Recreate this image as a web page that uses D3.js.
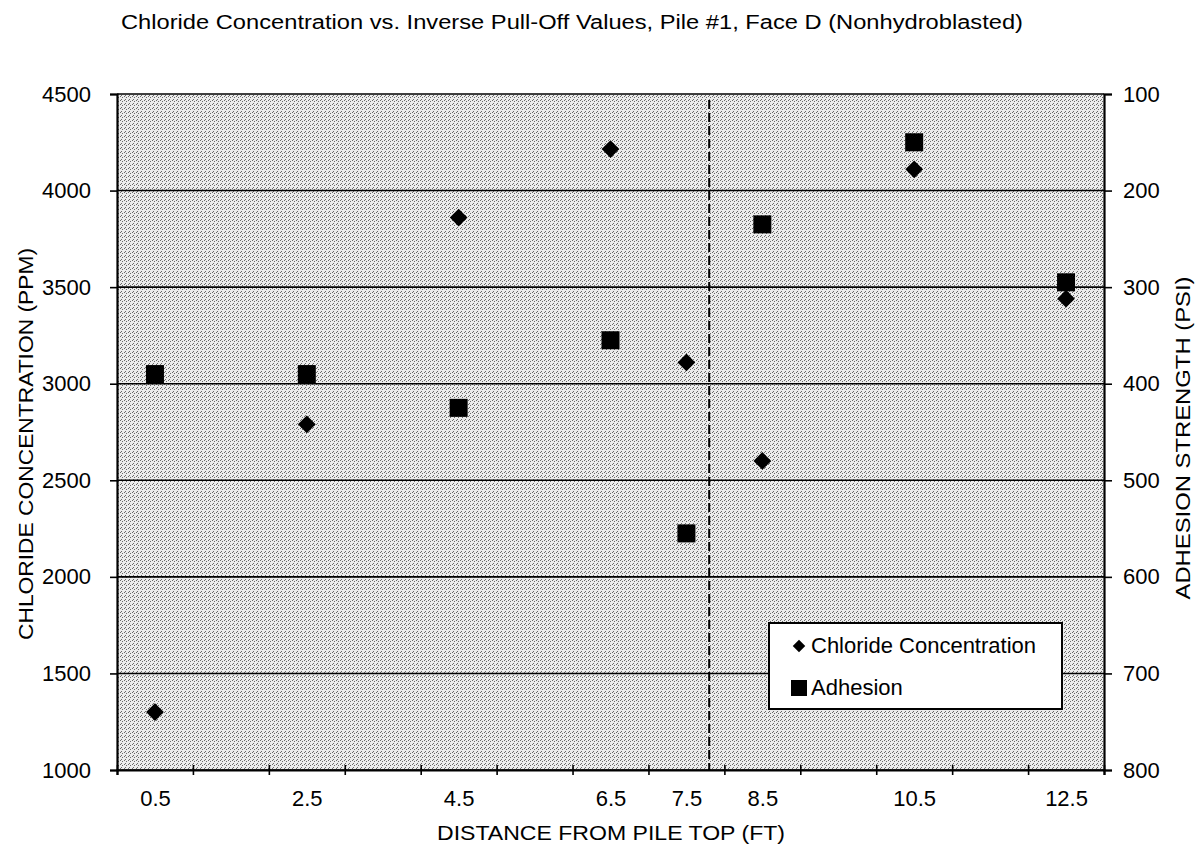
<!DOCTYPE html>
<html>
<head>
<meta charset="utf-8">
<script src="https://cdn.jsdelivr.net/npm/d3@7"></script>
<style>
  html, body { margin: 0; padding: 0; background: #fff; }
  svg { display: block; font-family: "Liberation Sans", Arial, sans-serif; }
</style>
</head>
<body>
<svg id="chart" width="1199" height="852"></svg>
<script>
// ---- data ----
const distances = [0.5, 2.5, 4.5, 6.5, 7.5, 8.5, 10.5, 12.5];
const chloride  = [1300, 2790, 3860, 4215, 3110, 2600, 4110, 3440];
const adhesion  = [390, 390, 425, 355, 555, 235, 150, 295];
const xTickLabels = [0.5, 2.5, 4.5, 6.5, 7.5, 8.5, 10.5, 12.5];
const leftTicks  = [1000, 1500, 2000, 2500, 3000, 3500, 4000, 4500];
const rightTicks = [100, 200, 300, 400, 500, 600, 700, 800];
const dividerAt = 7.8;
const titleText = "Chloride Concentration vs. Inverse Pull-Off Values, Pile #1, Face D (Nonhydroblasted)";

// ---- layout ----
const svg = d3.select("#chart");
const L = 117, R = 1104, T = 94, B = 770;
const FONT = "'Liberation Sans', Arial, sans-serif";

const x = d3.scaleLinear().domain([0, 13]).range([L, R]);
const yL = d3.scaleLinear().domain([1000, 4500]).range([B, T]);
const yR = d3.scaleLinear().domain([800, 100]).range([B, T]);

// stipple pattern (scanned-look gray)
const defs = svg.append("defs");
const pat = defs.append("pattern").attr("id", "stip").attr("patternUnits", "userSpaceOnUse")
  .attr("width", 4).attr("height", 4);
pat.append("rect").attr("width", 4).attr("height", 4).attr("fill", "#ececec");
[[0,0],[2,1],[1,3]].forEach(([a,b]) =>
  pat.append("rect").attr("x", a).attr("y", b).attr("width", 1).attr("height", 1).attr("fill", "#6a6a6a"));

svg.append("rect").attr("x", L).attr("y", T).attr("width", R - L).attr("height", B - T)
  .attr("fill", "url(#stip)");

// gridlines
svg.append("g").selectAll("line").data(leftTicks).join("line")
  .attr("x1", L).attr("x2", R).attr("y1", d => yL(d)).attr("y2", d => yL(d))
  .attr("stroke", "#000").attr("stroke-width", 1.6);

// left axis
const gL = svg.append("g").attr("transform", `translate(${L},0)`)
  .call(d3.axisLeft(yL).tickValues(leftTicks).tickSize(7).tickPadding(19).tickFormat(d3.format("d")));
// right axis
const gR = svg.append("g").attr("transform", `translate(${R},0)`)
  .call(d3.axisRight(yR).tickValues(rightTicks).tickSize(8).tickPadding(11).tickFormat(d3.format("d")));
// bottom axis (minor ticks at whole feet, labels at half feet)
const gB = svg.append("g").attr("transform", `translate(0,${B})`)
  .call(d3.axisBottom(x).ticks(13).tickSize(5).tickFormat(""));
gB.selectAll(".tick line").attr("y1", -5);
const gBL = svg.append("g").attr("transform", `translate(0,${B})`)
  .call(d3.axisBottom(x).tickValues(xTickLabels).tickSize(0).tickPadding(20).tickFormat(d3.format(".1f")));
gBL.select(".domain").remove();

[gL, gR, gB].forEach(g => {
  g.select(".domain").attr("stroke", "#000").attr("stroke-width", 2.2);
  g.selectAll(".tick line").attr("stroke", "#000").attr("stroke-width", 1.6);
});
[gL, gR, gBL].forEach(g => g.selectAll("text").attr("font-size", 22).attr("fill", "#000")
  .attr("font-family", FONT));

// divider
svg.append("line").attr("x1", x(dividerAt)).attr("x2", x(dividerAt)).attr("y1", T + 6).attr("y2", B)
  .attr("stroke", "#000").attr("stroke-width", 2).attr("stroke-dasharray", "9,4");

// points: chloride diamonds first, adhesion squares drawn on top
const pts = distances.map((d, i) => ({ d, c: chloride[i], a: adhesion[i] }));
const diamond = d3.symbol().type(d3.symbolDiamond2).size(200);
svg.append("g").selectAll("path").data(pts).join("path")
  .attr("transform", p => `translate(${x(p.d)},${yL(p.c)})`)
  .attr("d", diamond).attr("fill", "#000");
svg.append("g").selectAll("rect").data(pts).join("rect")
  .attr("x", p => x(p.d) - 9).attr("y", p => yR(p.a) - 9)
  .attr("width", 18).attr("height", 18).attr("fill", "#000");

// legend
const lg = svg.append("g").attr("font-family", FONT);
lg.append("rect").attr("x", 769).attr("y", 623).attr("width", 293).attr("height", 86)
  .attr("fill", "#fff").attr("stroke", "#000").attr("stroke-width", 2);
lg.append("path").attr("transform", "translate(799,646)")
  .attr("d", d3.symbol().type(d3.symbolDiamond2).size(100)).attr("fill", "#000");
lg.append("rect").attr("x", 791).attr("y", 680).attr("width", 16).attr("height", 16).attr("fill", "#000");
lg.append("text").attr("x", 811).attr("y", 653).attr("font-size", 22).text("Chloride Concentration");
lg.append("text").attr("x", 811).attr("y", 695).attr("font-size", 22).text("Adhesion");

// titles
svg.append("text").attr("x", 572).attr("y", 29).attr("text-anchor", "middle")
  .attr("font-size", 20).attr("textLength", 902).attr("lengthAdjust", "spacingAndGlyphs").text(titleText);
svg.append("text").attr("x", 611).attr("y", 840).attr("text-anchor", "middle")
  .attr("font-size", 21).attr("textLength", 348).attr("lengthAdjust", "spacingAndGlyphs")
  .text("DISTANCE FROM PILE TOP (FT)");
svg.append("text").attr("transform", "translate(33,444) rotate(-90)").attr("text-anchor", "middle")
  .attr("font-size", 21).attr("textLength", 392).attr("lengthAdjust", "spacingAndGlyphs")
  .text("CHLORIDE CONCENTRATION (PPM)");
svg.append("text").attr("transform", "translate(1190,438) rotate(-90)").attr("text-anchor", "middle")
  .attr("font-size", 21).attr("textLength", 323).attr("lengthAdjust", "spacingAndGlyphs")
  .text("ADHESION STRENGTH (PSI)");
</script>
</body>
</html>
